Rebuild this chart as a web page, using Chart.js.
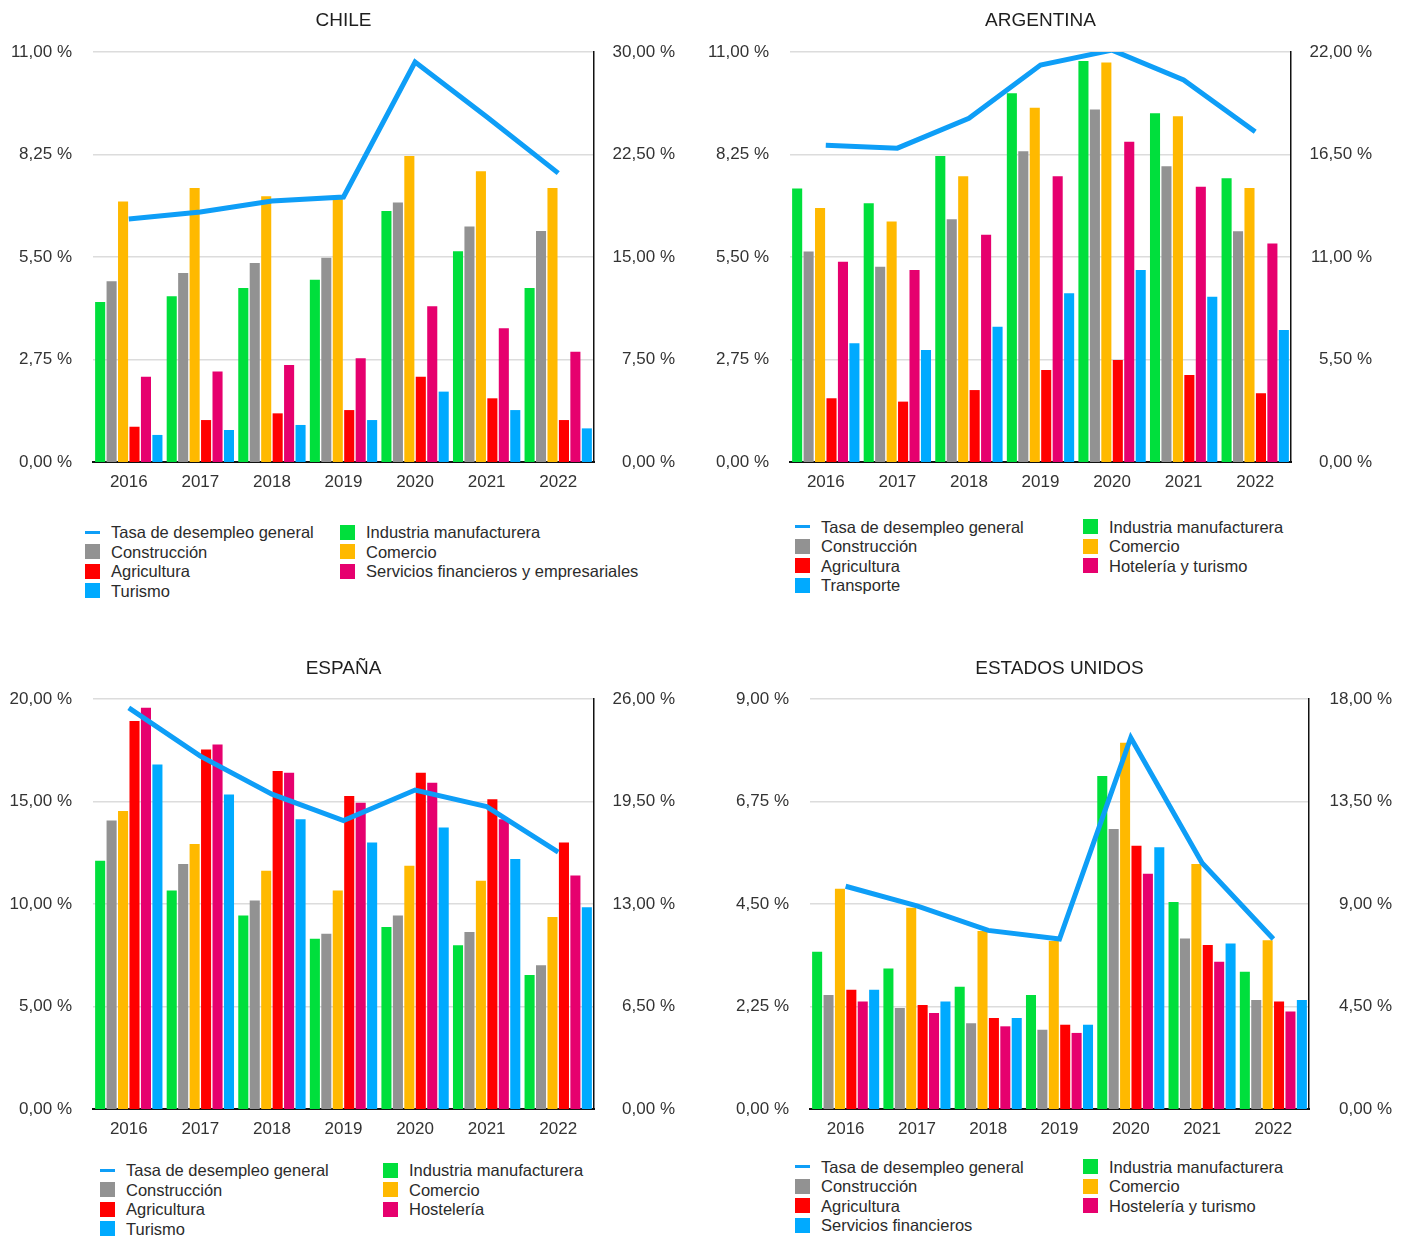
<!DOCTYPE html>
<html>
<head>
<meta charset="utf-8">
<script src="https://cdn.jsdelivr.net/npm/chart.js@4"></script>
<style>
  html, body { margin: 0; padding: 0; background: #fff; }
  #page { position: relative; width: 1408px; height: 1236px; overflow: hidden;
          font-family: "Liberation Sans", Arial, Helvetica, sans-serif; }
  #page canvas { position: absolute; }
  .lg-text { position: absolute; font-size: 16.5px; color: #2b2b2b; white-space: nowrap;
             line-height: 20px; height: 20px; }
  .lg-sw { position: absolute; }
</style>
</head>
<body>
<div id="page"></div>
<script>
// ---- shared categories ----
const YEARS = ['2016', '2017', '2018', '2019', '2020', '2021', '2022'];

// ---- CHILE ----
const CL_TASA         = [6.52, 6.71, 7.00, 7.11, 10.73, 9.26, 7.75];
const CL_INDUSTRIA    = [11.71, 12.12, 12.73, 13.34, 18.37, 15.42, 12.73];
const CL_CONSTRUCCION = [13.22, 13.83, 14.56, 14.95, 18.98, 17.24, 16.90];
const CL_COMERCIO     = [19.07, 20.05, 19.44, 19.30, 22.39, 21.27, 20.05];
const CL_AGRICULTURA  = [2.58, 3.07, 3.56, 3.80, 6.24, 4.66, 3.07];
const CL_SERVICIOS    = [6.24, 6.63, 7.10, 7.59, 11.39, 9.78, 8.07];
const CL_TURISMO      = [1.98, 2.34, 2.71, 3.07, 5.15, 3.80, 2.46];
const CL_TICKS_L = [0, 2.75, 5.5, 8.25, 11];
const CL_TICKS_R = [0, 7.5, 15, 22.5, 30];

// ---- ARGENTINA ----
const AR_TASA         = [8.50, 8.42, 9.22, 10.65, 11.05, 10.25, 8.86];
const AR_INDUSTRIA    = [14.68, 13.88, 16.42, 19.78, 21.52, 18.71, 15.22];
const AR_CONSTRUCCION = [11.30, 10.48, 13.02, 16.67, 18.92, 15.87, 12.38];
const AR_COMERCIO     = [13.63, 12.91, 15.33, 19.01, 21.43, 18.55, 14.70];
const AR_AGRICULTURA  = [3.42, 3.24, 3.86, 4.94, 5.47, 4.67, 3.69];
const AR_HOTELERIA    = [10.75, 10.30, 12.20, 15.33, 17.19, 14.77, 11.73];
const AR_TRANSPORTE   = [6.37, 6.01, 7.26, 9.05, 10.30, 8.87, 7.08];
const AR_TICKS_L = [0, 2.75, 5.5, 8.25, 11];
const AR_TICKS_R = [0, 5.5, 11, 16.5, 22];

// ---- ESPAÑA ----
const ES_TASA         = [19.57, 17.21, 15.36, 14.07, 15.56, 14.75, 12.53];
const ES_INDUSTRIA    = [15.75, 13.85, 12.27, 10.80, 11.54, 10.38, 8.49];
const ES_CONSTRUCCION = [18.29, 15.54, 13.22, 11.12, 12.27, 11.22, 9.12];
const ES_COMERCIO     = [18.90, 16.80, 15.11, 13.85, 15.43, 14.48, 12.17];
const ES_AGRICULTURA  = [24.60, 22.79, 21.44, 19.85, 21.32, 19.64, 16.90];
const ES_HOSTELERIA   = [25.44, 23.11, 21.32, 19.42, 20.69, 18.38, 14.80];
const ES_TURISMO      = [21.85, 19.95, 18.38, 16.90, 17.85, 15.85, 12.80];
const ES_TICKS_L = [0, 5, 10, 15, 20];
const ES_TICKS_R = [0, 6.5, 13, 19.5, 26];

// ---- ESTADOS UNIDOS ----
const US_TASA         = [4.89, 4.46, 3.92, 3.73, 8.15, 5.40, 3.73];
const US_INDUSTRIA    = [6.90, 6.17, 5.37, 5.01, 14.62, 9.09, 6.03];
const US_CONSTRUCCION = [5.01, 4.43, 3.77, 3.48, 12.29, 7.49, 4.79];
const US_COMERCIO     = [9.67, 8.84, 7.82, 7.38, 16.08, 10.76, 7.41];
const US_AGRICULTURA  = [5.23, 4.57, 3.99, 3.70, 11.56, 7.20, 4.72];
const US_HOSTELERIA   = [4.72, 4.21, 3.63, 3.34, 10.33, 6.47, 4.28];
const US_FINANCIEROS  = [5.23, 4.72, 3.99, 3.70, 11.49, 7.27, 4.79];
const US_TICKS_L = [0, 2.25, 4.5, 6.75, 9];
const US_TICKS_R = [0, 4.5, 9, 13.5, 18];

// ---- styling ----
const FONT = '"Liberation Sans", Arial, Helvetica, sans-serif';
const C = {
  line: '#0E9EF7',
  green: '#00DF3C',
  gray: '#929292',
  orange: '#FFB900',
  red: '#FF0000',
  magenta: '#E6006E',
  blue: '#00AAFF'
};
const TASA_LABEL = 'Tasa de desempleo general';

// leftW / rightW: widths of the two value axes; padR: space right of the right axis labels
const panels = [
  {
    title: 'CHILE', px: 0, py: 0, leftW: 93, rightW: 81, padR: 29, top: 52,
    ticksL: CL_TICKS_L, ticksR: CL_TICKS_R, tasa: CL_TASA,
    bars: [
      ['Industria manufacturera', CL_INDUSTRIA, C.green],
      ['Construcción', CL_CONSTRUCCION, C.gray],
      ['Comercio', CL_COMERCIO, C.orange],
      ['Agricultura', CL_AGRICULTURA, C.red],
      ['Servicios financieros y empresariales', CL_SERVICIOS, C.magenta],
      ['Turismo', CL_TURISMO, C.blue]
    ],
    legend: { x: 85, y: 532, col2: 255 }
  },
  {
    title: 'ARGENTINA', px: 704, py: 0, leftW: 86, rightW: 81, padR: 36, top: 52,
    ticksL: AR_TICKS_L, ticksR: AR_TICKS_R, tasa: AR_TASA,
    bars: [
      ['Industria manufacturera', AR_INDUSTRIA, C.green],
      ['Construcción', AR_CONSTRUCCION, C.gray],
      ['Comercio', AR_COMERCIO, C.orange],
      ['Agricultura', AR_AGRICULTURA, C.red],
      ['Hotelería y turismo', AR_HOTELERIA, C.magenta],
      ['Transporte', AR_TRANSPORTE, C.blue]
    ],
    legend: { x: 795, y: 526.5, col2: 288 }
  },
  {
    title: 'ESPAÑA', px: 0, py: 648, leftW: 93, rightW: 81, padR: 29, top: 51,
    ticksL: ES_TICKS_L, ticksR: ES_TICKS_R, tasa: ES_TASA,
    bars: [
      ['Industria manufacturera', ES_INDUSTRIA, C.green],
      ['Construcción', ES_CONSTRUCCION, C.gray],
      ['Comercio', ES_COMERCIO, C.orange],
      ['Agricultura', ES_AGRICULTURA, C.red],
      ['Hostelería', ES_HOSTELERIA, C.magenta],
      ['Turismo', ES_TURISMO, C.blue]
    ],
    legend: { x: 100, y: 1170, col2: 283 }
  },
  {
    title: 'ESTADOS UNIDOS', px: 704, py: 648, leftW: 106, rightW: 83, padR: 16, top: 51,
    ticksL: US_TICKS_L, ticksR: US_TICKS_R, tasa: US_TASA,
    bars: [
      ['Industria manufacturera', US_INDUSTRIA, C.green],
      ['Construcción', US_CONSTRUCCION, C.gray],
      ['Comercio', US_COMERCIO, C.orange],
      ['Agricultura', US_AGRICULTURA, C.red],
      ['Hostelería y turismo', US_HOSTELERIA, C.magenta],
      ['Servicios financieros', US_FINANCIEROS, C.blue]
    ],
    legend: { x: 795, y: 1166.5, col2: 288 }
  }
];

const page = document.getElementById('page');
const CW = 704, CH = 500, TITLE_SIZE = 19, TITLE_PAD_TOP = 9;

const fmtPct = v => Number(v).toFixed(2).replace('.', ',') + ' %';

function drawPanel(p) {
  const canvas = document.createElement('canvas');
  canvas.width = CW; canvas.height = CH;
  canvas.style.left = p.px + 'px';
  canvas.style.top = p.py + 'px';
  canvas.style.width = CW + 'px';
  canvas.style.height = CH + 'px';
  page.appendChild(canvas);

  const datasets = [{
    type: 'line',
    label: TASA_LABEL,
    data: p.tasa,
    yAxisID: 'y',
    borderColor: C.line,
    backgroundColor: C.line,
    borderWidth: 5,
    pointRadius: 0,
    tension: 0,
    order: 0
  }];
  p.bars.forEach(([label, data, color]) => {
    datasets.push({
      type: 'bar',
      label, data,
      yAxisID: 'y1',
      backgroundColor: color,
      borderWidth: 0,
      categoryPercentage: 0.96,
      barPercentage: 0.88,
      order: 1
    });
  });

  const tickFont = { family: FONT, size: 17 };
  const lmax = p.ticksL[p.ticksL.length - 1];
  const rmax = p.ticksR[p.ticksR.length - 1];

  new Chart(canvas, {
    data: { labels: YEARS, datasets },
    options: {
      responsive: false,
      animation: false,
      devicePixelRatio: 1,
      layout: { padding: { left: 0, top: 0, bottom: 0, right: p.padR } },
      plugins: {
        legend: { display: false },
        tooltip: { enabled: false },
        title: {
          display: true,
          text: p.title,
          fullSize: false,
          color: '#1e1e1e',
          font: { family: FONT, size: TITLE_SIZE, weight: 'normal', lineHeight: 1.2 },
          padding: { top: TITLE_PAD_TOP, bottom: p.top - TITLE_PAD_TOP - TITLE_SIZE * 1.2 }
        }
      },
      scales: {
        x: {
          grid: { display: false },
          border: { display: true, color: '#111', width: 2 },
          ticks: { color: '#333', font: tickFont, padding: 2, maxRotation: 0, autoSkip: false },
          afterFit: s => { s.height = CH - p.top - 410; }
        },
        y: {
          position: 'left',
          min: 0, max: lmax,
          afterBuildTicks: s => { s.ticks = p.ticksL.map(v => ({ value: v })); },
          ticks: { color: '#333', font: tickFont, padding: 21, callback: fmtPct },
          grid: { color: '#dcdcdc', lineWidth: 1.5, drawTicks: false },
          border: { display: false },
          afterFit: s => { s.width = p.leftW; }
        },
        y1: {
          position: 'right',
          min: 0, max: rmax,
          afterBuildTicks: s => { s.ticks = p.ticksR.map(v => ({ value: v })); },
          ticks: { color: '#333', font: tickFont, padding: 18, crossAlign: 'far', callback: fmtPct },
          grid: { display: false, drawTicks: false },
          border: { display: true, color: '#111', width: 1.5 },
          afterFit: s => { s.width = p.rightW; }
        }
      }
    }
  });

  // two-column legend: line + first column of bars, then the rest
  const byLabel = {};
  p.bars.forEach(([label, , color]) => { byLabel[label] = color; });
  const names = p.bars.map(b => b[0]);
  const col1 = [[TASA_LABEL, C.line, 'line'], [names[1], byLabel[names[1]], 'box'],
                [names[3], byLabel[names[3]], 'box'], [names[5], byLabel[names[5]], 'box']];
  const col2 = [[names[0], byLabel[names[0]], 'box'], [names[2], byLabel[names[2]], 'box'],
                [names[4], byLabel[names[4]], 'box']];
  const ROW = 19.6;
  const addItem = (x, y, [label, color, kind]) => {
    const sw = document.createElement('div');
    sw.className = 'lg-sw';
    sw.style.background = color;
    sw.style.left = x + 'px';
    sw.style.width = '15px';
    if (kind === 'line') { sw.style.top = (y - 1.5) + 'px'; sw.style.height = '3px'; }
    else { sw.style.top = (y - 7.5) + 'px'; sw.style.height = '15px'; }
    page.appendChild(sw);
    const t = document.createElement('div');
    t.className = 'lg-text';
    t.textContent = label;
    t.style.left = (x + 26) + 'px';
    t.style.top = (y - 10) + 'px';
    page.appendChild(t);
  };
  col1.forEach((it, i) => addItem(p.legend.x, p.legend.y + i * ROW, it));
  col2.forEach((it, i) => addItem(p.legend.x + p.legend.col2, p.legend.y + i * ROW, it));
}

panels.forEach(drawPanel);
</script>
</body>
</html>
